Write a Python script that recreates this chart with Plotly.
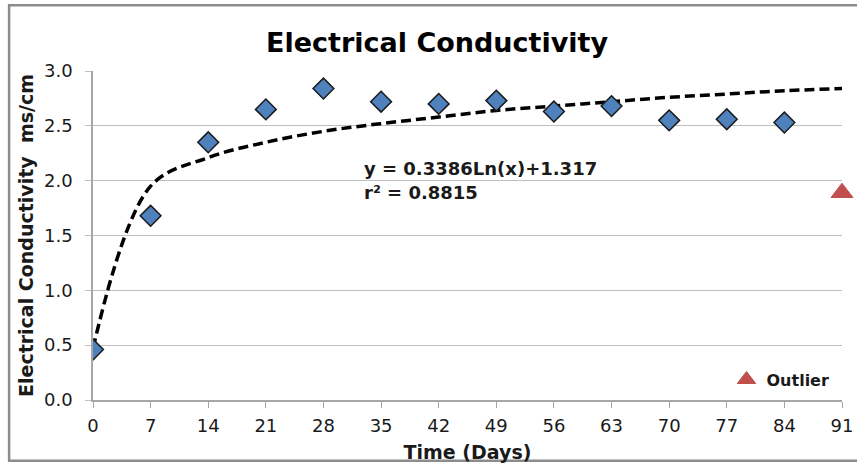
import plotly.graph_objects as go

days = [0, 7, 14, 21, 28, 35, 42, 49, 56, 63, 70, 77, 84]
ec = [0.46, 1.68, 2.35, 2.65, 2.84, 2.72, 2.70, 2.73, 2.63, 2.68, 2.55, 2.56, 2.53]
outlier_day = [91]
outlier_ec = [1.89]
trend_days = [0, 7, 14, 21, 28, 35, 42, 49, 56, 63, 70, 77, 84, 91]
trend_ec = [0.47, 1.95, 2.21, 2.35, 2.45, 2.52, 2.58, 2.64, 2.68, 2.72, 2.76, 2.79, 2.82, 2.84]
x_ticks = [0, 7, 14, 21, 28, 35, 42, 49, 56, 63, 70, 77, 84, 91]
y_ticks = [0.0, 0.5, 1.0, 1.5, 2.0, 2.5, 3.0]

font = "DejaVu Sans, Verdana, sans-serif"
txt = "#1a1a1a"

fig = go.Figure()
fig.add_trace(go.Scatter(
    x=trend_days, y=trend_ec, mode="lines", showlegend=False,
    line=dict(color="black", width=3.5, dash="10px,5px", shape="spline", smoothing=1.0),
    hoverinfo="skip"))
fig.add_trace(go.Scatter(
    x=days, y=ec, mode="markers", showlegend=False,
    marker=dict(symbol="diamond", size=16, color="#4F81BD",
                line=dict(color="#1a1a1a", width=1.5))))
fig.add_trace(go.Scatter(
    x=outlier_day, y=outlier_ec, mode="markers", name="<b>Outlier</b>",
    marker=dict(symbol="triangle-up", size=19, color="#C0504D",
                line=dict(color="#C0504D", width=1)),
    cliponaxis=False))

fig.update_layout(
    width=857, height=468,
    margin=dict(l=93, r=15, t=71, b=68, autoexpand=False),
    paper_bgcolor="white", plot_bgcolor="white",
    title=dict(text="<b>Electrical Conductivity</b>", x=0.51, xanchor="center",
               y=0.91, yanchor="middle",
               font=dict(family=font, size=27, color="black")),
    showlegend=True,
    legend=dict(x=0.99, y=0.062, xanchor="right", yanchor="middle",
                bgcolor="rgba(0,0,0,0)", itemwidth=30,
                font=dict(family=font, size=16, color=txt),
                tracegroupgap=0),
    xaxis=dict(range=[0, 91], tickvals=x_ticks, ticktext=[str(t) for t in x_ticks],
               showgrid=False, zeroline=False, showline=True, linecolor="#a6a6a6",
               linewidth=1.5, ticks="outside", ticklen=6, tickcolor="#a6a6a6",
               ticklabelstandoff=3,
               tickfont=dict(family=font, size=18, color=txt),
               title=dict(text="<b>Time (Days)</b>", standoff=10,
                          font=dict(family=font, size=19, color=txt))),
    yaxis=dict(range=[0, 3.0], tickvals=y_ticks, ticktext=[f"{v:.1f}" for v in y_ticks],
               showgrid=True, gridcolor="#bfbfbf", gridwidth=1.3, zeroline=False,
               showline=True, linecolor="#a6a6a6", linewidth=1.5,
               ticks="outside", ticklen=6, tickcolor="#bfbfbf",
               ticklabelstandoff=9,
               tickfont=dict(family=font, size=18, color=txt),
               title=dict(text="<b>Electrical Conductivity  ms/cm</b>", standoff=5,
                          font=dict(family=font, size=19, color=txt))),
)

fig.add_annotation(x=0.359, y=0.705, xref="paper", yref="paper",
                   xanchor="left", yanchor="middle", showarrow=False, align="left",
                   text="<b>y = 0.3386Ln(x)+1.317</b>",
                   font=dict(family=font, size=18, color=txt))
fig.add_annotation(x=0.359, y=0.632, xref="paper", yref="paper",
                   xanchor="left", yanchor="middle", showarrow=False, align="left",
                   text="<b>r² = 0.8815</b>",
                   font=dict(family=font, size=18, color=txt))

fig.add_shape(type="rect", xref="paper", yref="paper",
              x0=-0.112, x1=1.05, y0=-0.185, y1=1.2,
              line=dict(color="#8c8c8c", width=2.5), layer="below")

fig.write_html("out.html")
